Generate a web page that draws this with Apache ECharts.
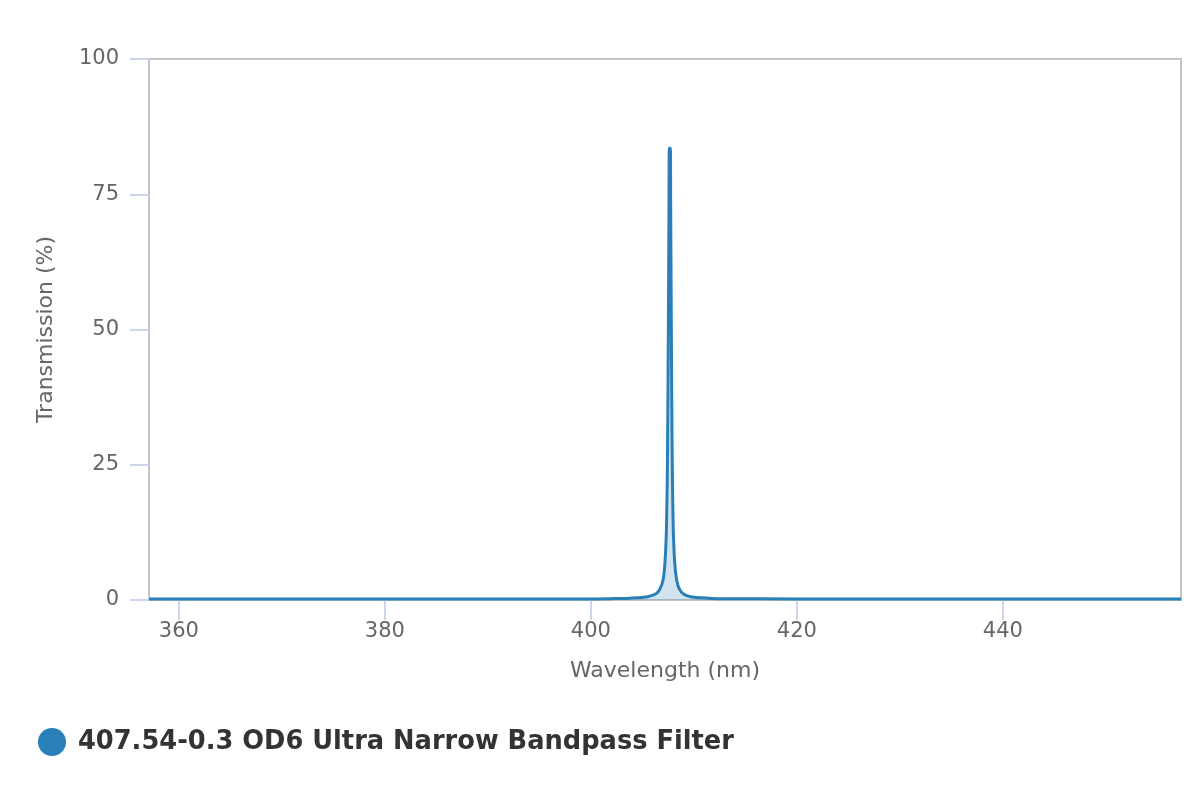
<!DOCTYPE html>
<html>
<head>
<meta charset="utf-8">
<script src="https://cdn.jsdelivr.net/npm/echarts@6/dist/echarts.min.js"></script>
<style>html,body{margin:0;padding:0;background:#fff}#c{width:1200px;height:800px}</style>
</head>
<body>
<div id="c"></div>
<script>
const seriesName = '407.54-0.3 OD6 Ultra Narrow Bandpass Filter';
const wavelengths = [357.1, 370, 380, 390, 400, 402, 403.5, 404.5, 405.5, 406.3, 406.7, 407.0, 407.2, 407.35, 407.45, 407.53, 407.59, 407.62, 407.72, 407.75, 407.81, 407.89, 407.99, 408.14, 408.34, 408.6, 409.0, 409.7, 410.7, 411.7, 412.9, 420, 440, 457.3];
const transmission = [0.2, 0.2, 0.2, 0.2, 0.2, 0.25, 0.3, 0.4, 0.6, 1.1, 2.0, 3.6, 7.0, 14, 28, 52, 74, 83.5, 83.5, 74, 52, 28, 14, 7.0, 3.6, 2.0, 1.1, 0.6, 0.4, 0.3, 0.25, 0.2, 0.2, 0.2];
const xTicks = [360, 380, 400, 420, 440];

const data = wavelengths.map((w, i) => [w, transmission[i]]);
const chart = echarts.init(document.getElementById('c'));
const font = 'DejaVu Sans';
chart.setOption({
  animation: false,
  backgroundColor: '#fff',
  grid: { left: 149, right: 19, top: 59, bottom: 200, show: true, borderColor: '#c4c4c4', borderWidth: 2, backgroundColor: 'transparent' },
  legend: {
    left: 33, top: 723,
    icon: 'circle', itemWidth: 28, itemHeight: 28,
    textStyle: { fontSize: 25.7, fontWeight: 'bold', color: '#333', fontFamily: 'DejaVu Sans', padding: [0, 0, 0, 7] },
    data: [seriesName]
  },
  xAxis: {
    type: 'value', min: 357.1, max: 457.3,
    name: 'Wavelength (nm)', nameLocation: 'middle', nameGap: 60,
    nameTextStyle: { fontSize: 22, color: '#666', fontFamily: font },
    axisLine: { show: true, lineStyle: { color: '#c4c4c4', width: 2 } },
    axisTick: { show: true, length: 20, lineStyle: { color: '#ccd6eb', width: 2 }, customValues: xTicks },
    axisLabel: { fontSize: 21, color: '#666', fontFamily: font, margin: 21, customValues: xTicks },
    splitLine: { show: false }
  },
  yAxis: {
    type: 'value', min: 0, max: 100, interval: 25,
    name: 'Transmission (%)', nameLocation: 'middle', nameGap: 92, nameRotate: 90,
    nameTextStyle: { fontSize: 22, color: '#666', fontFamily: font },
    axisLine: { show: true, lineStyle: { color: '#c4c4c4', width: 2 } },
    axisTick: { show: true, length: 19, lineStyle: { color: '#ccd6eb', width: 2 } },
    axisLabel: { fontSize: 21, color: '#666', fontFamily: font, margin: 30, padding: [4, 0, 0, 0] },
    splitLine: { show: false }
  },
  series: [{
    name: seriesName, type: 'line', data: data, showSymbol: false, smooth: 0.3,
    color: '#2980b9',
    lineStyle: { width: 3, color: '#2980b9' },
    areaStyle: { color: 'rgba(41,128,185,0.3)' }
  }]
});
</script>
</body>
</html>
